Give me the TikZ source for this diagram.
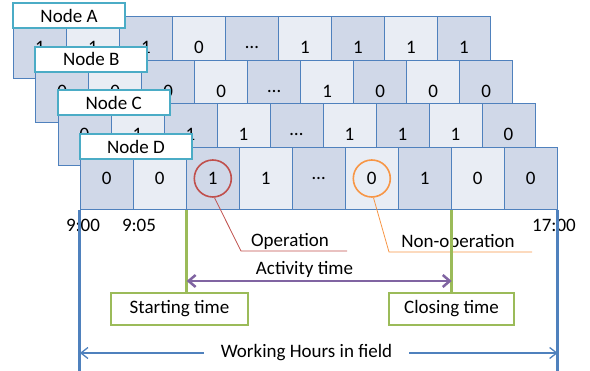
\documentclass[tikz,border=0pt]{standalone}
\usepackage{fontspec}
\setmainfont{Carlito}
\usetikzlibrary{positioning,arrows.meta,calc}

\definecolor{gridblue}{HTML}{4F81BD}
\definecolor{celldk}{HTML}{D0D8E8}
\definecolor{celllt}{HTML}{E9EDF4}
\definecolor{labteal}{HTML}{4BACC6}
\definecolor{opred}{HTML}{C0504D}
\definecolor{nonorange}{HTML}{F79646}
\definecolor{timegreen}{HTML}{9BBB59}
\definecolor{actpurple}{HTML}{8064A2}

\tikzset{
	cell/.style={draw=gridblue, line width=0.8pt, minimum width=53pt,
		minimum height=62pt, inner sep=0pt, anchor=north west},
	nodelabel/.style={draw=labteal, line width=2pt, fill=white,
		minimum width=112pt, minimum height=25pt, inner sep=0pt},
	markcircle/.style={circle, line width=1.6pt, minimum size=37pt, inner sep=0pt},
	timebox/.style={draw=timegreen, line width=2.5pt, fill=white,
		minimum height=32pt, inner sep=0pt},
	greenline/.style={draw=timegreen, line width=2.5pt},
	hourline/.style={draw=gridblue, line width=3pt},
	hourarrow/.style={draw=gridblue, line width=1.3pt,
		-{Straight Barb[length=7pt,width=11pt]}}
}

\begin{document}
\begin{tikzpicture}[x=1pt,y=-1pt]
	\useasboundingbox (0,0) rectangle (590,371);
	\fontsize{19}{22}\selectfont
	
	% the four rows, back to front
	\foreach \r/\lab/\vals in {0/A/{1,1,1,0,\dots,1,1,1,1},
		1/B/{0,0,0,0,\dots,1,0,0,0},
		2/C/{0,1,1,1,\dots,1,1,1,0},
		3/D/{0,0,1,1,\dots,0,1,0,0}}
	{
		\foreach \v [count=\c from 1] in \vals
		{
			\ifodd\c \def\cf{celldk}\else \def\cf{celllt}\fi
			\node[cell, fill=\cf] (\lab\c)
			at ({13+22.3*\r+53*(\c-1)},{16+43.7*\r}) {\v};
		}
		\node[nodelabel] (lab\lab)
		at ({13+22.3*\r+56},{16+43.7*\r-0.5}) {Node \lab};
	}
	
	% operation / non-operation marks
	\node[markcircle, draw=opred] (opc) at (D3) {};
	\node[markcircle, draw=nonorange] (nonc) at (D6) {};
	
	\coordinate (opbend) at (241,251);
	\coordinate (opend) at (347,251);
	\draw[opred, line width=0.8pt] (opc.-85) -- (opbend) -- (opend);
	\node (optext) at (290,241) {Operation};
	
	\coordinate (nonbend) at (389,252);
	\coordinate (nonend) at (532,252);
	\draw[nonorange, line width=0.8pt] (nonc.-85) -- (nonbend) -- (nonend);
	\node (nontext) at (458,242) {Non-operation};
	
	% times
	\node (t900) at (83,225) {9:00};
	\node (t905) at (139,225) {9:05};
	\node (t1700) at (554,225) {17:00};
	
	% starting and closing time
	\node[timebox, minimum width=137pt] (start) at (179.5,309) {Starting time};
	\node[timebox, minimum width=125pt] (close) at (451.5,309) {Closing time};
	\draw[greenline] (D2.south east) -- (D2.south east |- start.north);
	\draw[greenline] (D7.south east) -- (D7.south east |- close.north);
	
	\node (act) at (304.5,269) {Activity time};
	\draw[actpurple, line width=2.5pt,
		{Straight Barb[length=7pt,width=12pt]}-{Straight Barb[length=7pt,width=12pt]}]
		(D2.south east |- 0,281) -- (D7.south east |- 0,281);
	
	% working hours
	\draw[hourline] (D1.south west) -- (D1.south west |- 0,371);
	\draw[hourline] (D9.south east) -- (D9.south east |- 0,371);
	\node[inner xsep=17pt] (work) at (306.5,353) {Working Hours in field};
	\draw[hourarrow] (work.west) -- (work.west -| D1.south west);
	\draw[hourarrow] (work.east) -- (work.east -| D9.south east);
	
\end{tikzpicture}
\end{document}
